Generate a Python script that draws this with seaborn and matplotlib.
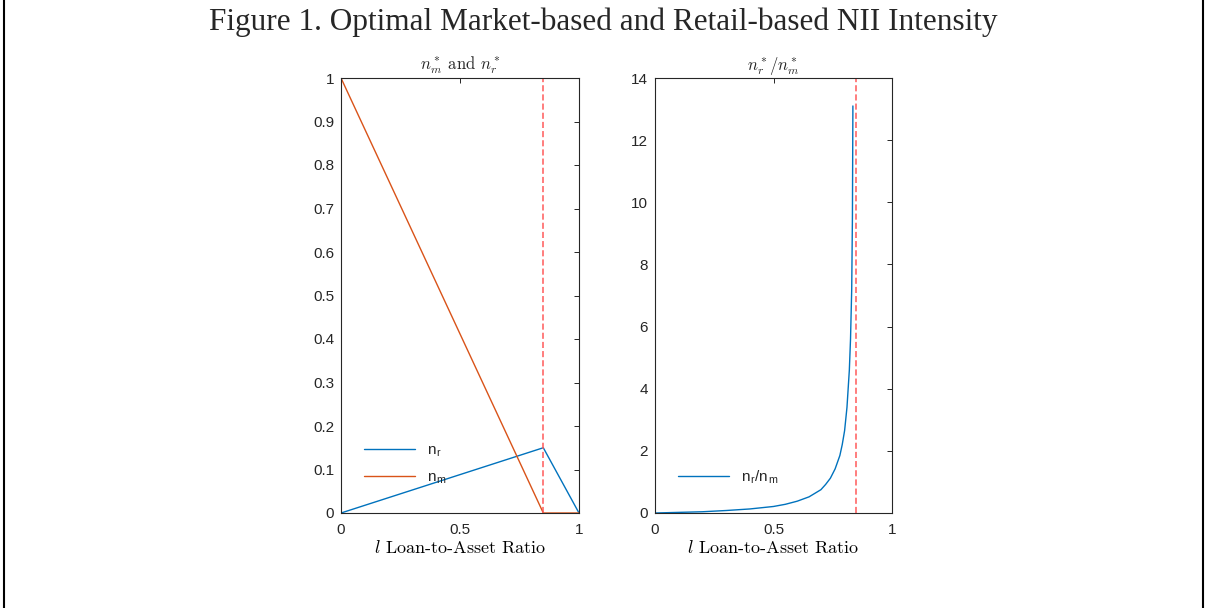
import matplotlib
matplotlib.use("Agg")
import pandas as pd
import seaborn as sns
import matplotlib.pyplot as plt
from matplotlib.lines import Line2D

# Datos
l_vals = [0.0, 0.85, 1.0]
n_r_vals = [0.0, 0.15, 0.0]
n_m_vals = [1.0, 0.0, 0.0]
l_cut = 0.85

l_ratio = [0.0, 0.1, 0.2, 0.3, 0.4, 0.5, 0.55, 0.6, 0.65, 0.7, 0.72, 0.74,
           0.76, 0.78, 0.79, 0.8, 0.81, 0.82, 0.825, 0.83, 0.833, 0.835]
ratio_vals = [0.0, 0.02, 0.04, 0.08, 0.13, 0.21, 0.28, 0.38, 0.52, 0.75, 0.92,
              1.12, 1.42, 1.85, 2.2, 2.65, 3.4, 4.6, 5.6, 7.2, 9.5, 13.1]

left_yticks = [0, 0.1, 0.2, 0.3, 0.4, 0.5, 0.6, 0.7, 0.8, 0.9, 1]
right_yticks = [0, 2, 4, 6, 8, 10, 12, 14]
xticks = [0, 0.5, 1]

blue = "#0072BD"
orange = "#D95319"
red = "#FF5A5A"
axis_col = "#262626"

sns.set_theme(style="white")
plt.rcParams["font.family"] = ["Liberation Sans", "DejaVu Sans"]
plt.rcParams["mathtext.fontset"] = "cm"

fig = plt.figure(figsize=(12.07, 6.08), dpi=100)
ax1 = fig.add_axes([341 / 1207, 1 - 513 / 608, 238 / 1207, 435 / 608])
ax2 = fig.add_axes([655 / 1207, 1 - 513 / 608, 237 / 1207, 435 / 608])

df_left = pd.DataFrame({"l": l_vals, "n_r": n_r_vals, "n_m": n_m_vals})
df_right = pd.DataFrame({"l": l_ratio, "ratio": ratio_vals})

# Panel izquierdo
sns.lineplot(data=df_left, x="l", y="n_r", ax=ax1, color=blue, lw=1,
             label=r"n$_\mathregular{r}$")
sns.lineplot(data=df_left, x="l", y="n_m", ax=ax1, color=orange, lw=1,
             label=r"n$_\mathregular{m}$")
ax1.axvline(l_cut, color=red, ls=(0, (4, 2)), lw=1.1)

# Panel derecho
sns.lineplot(data=df_right, x="l", y="ratio", ax=ax2, color=blue, lw=1,
             label=r"n$_\mathregular{r}$/n$_\mathregular{m}$")
ax2.axvline(l_cut, color=red, ls=(0, (4, 2)), lw=1.1)

for ax, yt, ymax in [(ax1, left_yticks, 1), (ax2, right_yticks, 14)]:
    ax.set_xlim(0, 1)
    ax.set_ylim(0, ymax)
    ax.set_xticks(xticks)
    ax.set_xticklabels(["0", "0.5", "1"])
    ax.set_yticks(yt)
    ax.set_yticklabels([f"{v:g}" for v in yt])
    ax.tick_params(direction="in", length=3.5, width=0.7, colors=axis_col,
                   labelsize=11, top=True, right=True)
    ax.tick_params(axis="x", pad=7.5)
    ax.tick_params(axis="y", pad=5)
    for s in ax.spines.values():
        s.set_color(axis_col)
        s.set_linewidth(0.8)
        s.set_visible(True)
    ax.set_xlabel(r"$l$ Loan-to-Asset Ratio", fontfamily="cmr10",
                  fontsize=13, color="black", labelpad=1)
    ax.set_ylabel("")
    ax.grid(False)

ax1.set_title(r"$n_m^*$ and $n_r^*$", fontfamily="cmr10", fontsize=12, pad=6)
ax2.set_title(r"$n_r^*/n_m^*$", fontsize=12, pad=6)

ax1.legend(loc="lower left", bbox_to_anchor=(0.04, 0.03), frameon=False,
           fontsize=11, handlelength=3.3, labelspacing=0.75)
ax2.legend(loc="lower left", bbox_to_anchor=(0.04, 0.03), frameon=False,
           fontsize=11, handlelength=3.3)

# Titulo general y marco
fig.text(0.5, 1 - 22 / 608, "Figure 1. Optimal Market-based and Retail-based NII Intensity",
         ha="center", va="center", fontsize=22.5,
         fontfamily=["Liberation Serif", "DejaVu Serif"])
fig.add_artist(Line2D([4 / 1207, 4 / 1207], [0, 1], color="black", lw=1.5))
fig.add_artist(Line2D([1203 / 1207, 1203 / 1207], [0, 1], color="black", lw=1.5))

fig.savefig("out.png", dpi=100)
